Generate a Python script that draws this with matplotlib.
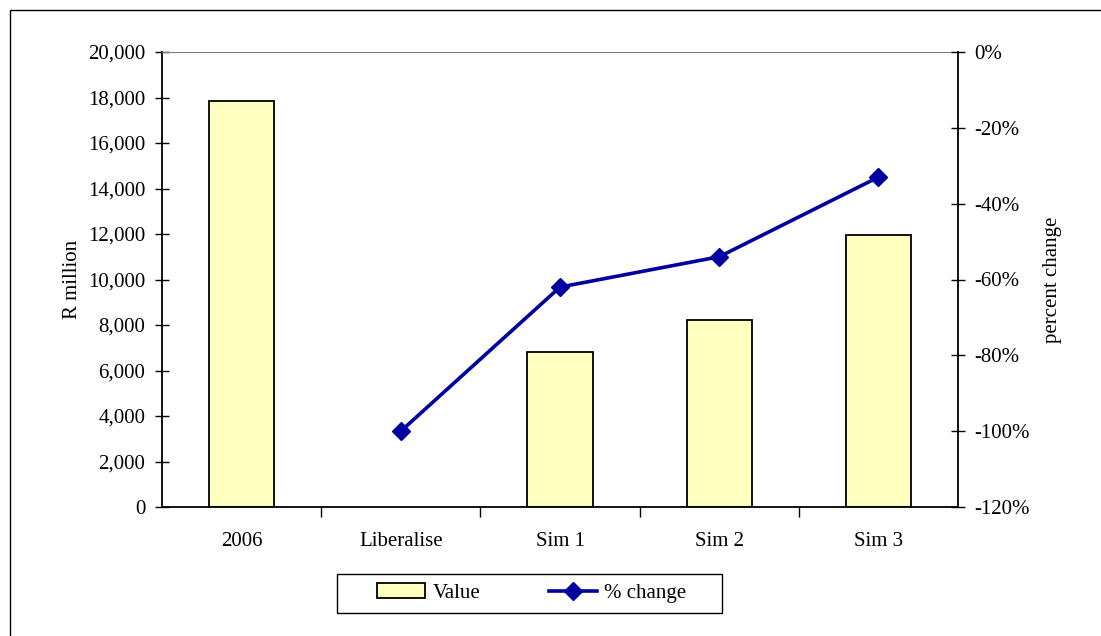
import matplotlib
matplotlib.use("Agg")
import matplotlib.pyplot as plt
from matplotlib.patches import Rectangle
from matplotlib.lines import Line2D
from matplotlib.ticker import FuncFormatter, FixedLocator

plt.rcParams['font.family'] = ['Liberation Serif', 'DejaVu Serif']

# data
categories = ['2006', 'Liberalise', 'Sim 1', 'Sim 2', 'Sim 3']
values = [17850, 0, 6800, 8200, 11950]          # R million
pct_change = [None, -100, -62, -54, -33]        # percent

fs = 15
fig = plt.figure(figsize=(11.01, 6.36), dpi=100)
W, H = 1101, 636
ax = fig.add_axes([162 / W, 1 - 507 / H, (958 - 162) / W, (507 - 52) / H])

# outer chart frame
fig.patches.append(Rectangle((10 / W, -0.1), 1.2, 1 - 10 / H + 0.1, transform=fig.transFigure,
                             fill=False, edgecolor='black', linewidth=1.0))

x = list(range(len(categories)))
bx = [i for i, v in zip(x, values) if v > 0]
bv = [v for v in values if v > 0]
ax.bar(bx, bv, width=0.41, color='#FFFFC0', edgecolor='black', linewidth=1.3, zorder=2)
ax.set_xlim(-0.5, len(categories) - 0.5)
ax.set_ylim(0, 20000)
ax.set_yticks(range(0, 20001, 2000))
ax.yaxis.set_major_formatter(FuncFormatter(lambda v, p: f'{int(v):,}'))
ax.set_xticks(x)
ax.set_xticklabels(categories, fontsize=fs)
ax.xaxis.set_minor_locator(FixedLocator([i + 0.5 for i in x[:-1]]))
ax.tick_params(axis='x', which='major', length=0, pad=18)
ax.tick_params(axis='x', which='minor', length=7, width=1, direction='out')
ax.tick_params(axis='y', length=10, width=1, direction='inout', labelsize=fs, pad=7)
ax.set_ylabel('R million', fontsize=fs, labelpad=4)
for s in ['left', 'bottom']:
    ax.spines[s].set_linewidth(1.3)
ax.spines['top'].set_color('#808080')
ax.spines['right'].set_visible(False)

ax2 = ax.twinx()
ax2.set_ylim(-120, 0)
ax2.set_yticks(range(-120, 1, 20))
ax2.yaxis.set_major_formatter(FuncFormatter(lambda v, p: f'{int(v)}%'))
ax2.tick_params(axis='y', length=10, width=1, direction='inout', labelsize=fs, pad=7)
ax2.spines['right'].set_linewidth(1.3)
ax2.spines['top'].set_visible(False)
ax2.spines['left'].set_visible(False)
ax2.spines['bottom'].set_visible(False)
ax2.set_ylabel('percent change', fontsize=fs, labelpad=9)
px = [i for i, v in zip(x, pct_change) if v is not None]
py = [v for v in pct_change if v is not None]
ax2.plot(px, py, color='#0000A0', linewidth=2.6, marker='D', markersize=9, zorder=3)

# legend without its own frame, the box is drawn separately to get the wide margins
handles = [Rectangle((0, 0), 1, 1, facecolor='#FFFFC0', edgecolor='black', linewidth=1.3),
           Line2D([], [], color='#0000A0', linewidth=2.6, marker='D', markersize=9)]
leg = fig.legend(handles, ['Value', '% change'], loc='center',
                 bbox_to_anchor=(532 / W, 1 - 593 / H), ncol=2, fontsize=fs,
                 frameon=False, columnspacing=3.3,
                 handlelength=2.3, handletextpad=0.35, borderpad=0, borderaxespad=0)
fig.patches.append(Rectangle((337 / W, 1 - 613 / H), (722 - 337) / W, 39 / H,
                             transform=fig.transFigure, fill=False,
                             edgecolor='black', linewidth=1.0))

fig.savefig('out.png', dpi=100)
